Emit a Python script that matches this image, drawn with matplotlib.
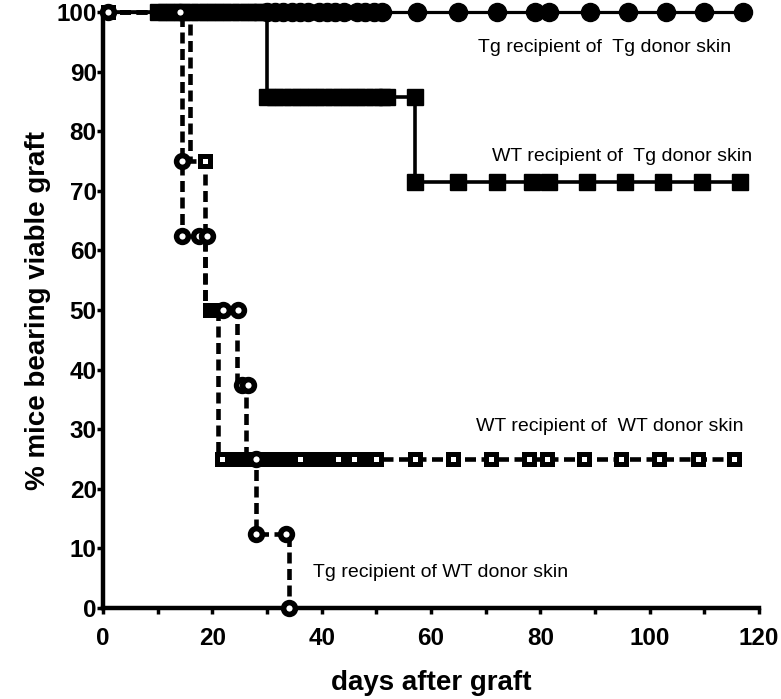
import matplotlib
matplotlib.use("Agg")
import matplotlib.pyplot as plt
import numpy as np

plt.rcParams['font.family'] = ['Liberation Sans', 'DejaVu Sans']

# step curves (day of change, % surviving)
tgtg_days = [0, 117]
tgtg_surv = [100, 100]
wttg_days = [0, 30, 57, 117]
wttg_surv = [100, 85.7, 71.4, 71.4]
wtwt_days = [0, 16, 18.7, 21, 117]
wtwt_surv = [100, 75, 50, 25, 25]
tgwt_days = [0, 14.5, 14.5, 18.7, 24.5, 26.2, 28.0, 34.0]
tgwt_surv = [100, 75, 62.5, 50, 37.5, 25, 12.5, 0]

# marker positions
tgtg_mx = [30, 31.5, 33, 34.5, 36, 37.5, 39.5, 41, 42.5, 44, 46.5, 48, 49.5, 51,
           57.5, 65, 72, 79, 81.5, 89, 96, 103, 110, 117]
tgtg_my = [100] * len(tgtg_mx)
wttg_mx = [10, 11.5, 13, 14.5, 16, 17.5, 19, 20.5, 22, 23.5, 25, 26.5, 28, 29,
           30, 31.5, 33, 34.5, 36, 37.5, 39, 40.5, 42, 43.5, 45, 46.5, 48, 49.5, 51, 52, 57,
           57, 65, 72, 78.5, 81.5, 88.5, 95.5, 102.5, 109.5, 116.5]
wttg_my = [100] * 14 + [85.7] * 17 + [71.4] * 10
# WT/WT censor marks packed so tightly they merge into a black bar
wtwt_dense_x = [19.5, 20.5, 21.3, 22.8, 23.8, 24.8, 25.8, 26.8, 27.8, 28.8, 29.8,
                30.8, 31.8, 32.8, 33.8, 34.8, 37, 38, 39, 40, 41, 42, 44.5, 47, 48, 49]
wtwt_dense_y = [50, 50, 50] + [25] * 23
# WT/WT marks whose white centre shows
wtwt_mx = [1, 18.7, 21.8, 36, 43, 46, 50, 57, 64, 71, 78, 81.3, 88, 94.7,
           101.7, 108.8, 115.5]
wtwt_my = [100, 75] + [25] * 15
tgwt_mx = [1, 14, 14.5, 14.5, 17.5, 19, 22, 24.7, 25.5, 26.5, 28, 28, 33.5, 34]
tgwt_my = [100, 100, 75, 62.5, 62.5, 62.5, 50, 50, 37.5, 37.5, 25, 12.5, 12.5, 0]

labels = ["Tg recipient of  Tg donor skin", "WT recipient of  Tg donor skin",
          "WT recipient of  WT donor skin", "Tg recipient of WT donor skin"]
label_x = [68.6, 71.2, 68.2, 38.4]
label_y = [94.1, 75.7, 30.4, 5.9]

fig = plt.figure(figsize=(7.81, 6.99), dpi=100)
ax = fig.add_axes([103 / 781, 1 - 608 / 699, 656 / 781, 596 / 699])

dash = (0, (2.4, 1.2))

ax.plot(tgtg_days, tgtg_surv, drawstyle='steps-post', color='black', lw=2.3,
        clip_on=False, zorder=3)
ax.plot(wttg_days, wttg_surv, drawstyle='steps-post', color='black', lw=2.6,
        clip_on=False, zorder=3)
ax.plot(wtwt_days, wtwt_surv, drawstyle='steps-post', color='black', lw=3.3,
        linestyle=dash, clip_on=False, zorder=3)
ax.plot(tgwt_days, tgwt_surv, drawstyle='steps-post', color='black', lw=3.3,
        linestyle=dash, clip_on=False, zorder=3)

ax.plot(wttg_mx, wttg_my, 's', ms=11, color='black', clip_on=False, zorder=4)
ax.plot(tgtg_mx, tgtg_my, 'o', ms=13, color='black', clip_on=False, zorder=4)
ax.plot(wtwt_dense_x, wtwt_dense_y, 's', ms=7.5, mfc='black', mec='black', mew=3.6,
        clip_on=False, zorder=5)
ax.plot(wtwt_mx, wtwt_my, 's', ms=7.5, mfc='white', mec='black', mew=3.6,
        clip_on=False, zorder=5)
ax.plot(tgwt_mx, tgwt_my, 'o', ms=8.5, mfc='white', mec='black', mew=4,
        clip_on=False, zorder=6)

for t, x, y in zip(labels, label_x, label_y):
    ax.text(x, y, t, fontsize=14, ha='left', va='center')

ax.set_xlim(0, 120)
ax.set_ylim(0, 100)
ax.set_xticks(np.arange(0, 121, 20))
ax.set_xticks(np.arange(0, 121, 10), minor=True)
ax.set_yticks(np.arange(0, 101, 10))
for s in ['top', 'right']:
    ax.spines[s].set_visible(False)
for s in ['left', 'bottom']:
    ax.spines[s].set_linewidth(3.2)
ax.tick_params(axis='both', which='both', width=2.5, length=4, direction='out')
ax.tick_params(axis='y', pad=0.5, labelsize=17.5)
ax.tick_params(axis='x', pad=10, labelsize=17.5)
for lab in ax.get_xticklabels() + ax.get_yticklabels():
    lab.set_fontweight('bold')

ax.set_xlabel("days after graft", fontsize=20, fontweight='bold', labelpad=14)
ax.set_ylabel("% mice bearing viable graft", fontsize=20, fontweight='bold', labelpad=4)

fig.savefig("out.png", dpi=100)
